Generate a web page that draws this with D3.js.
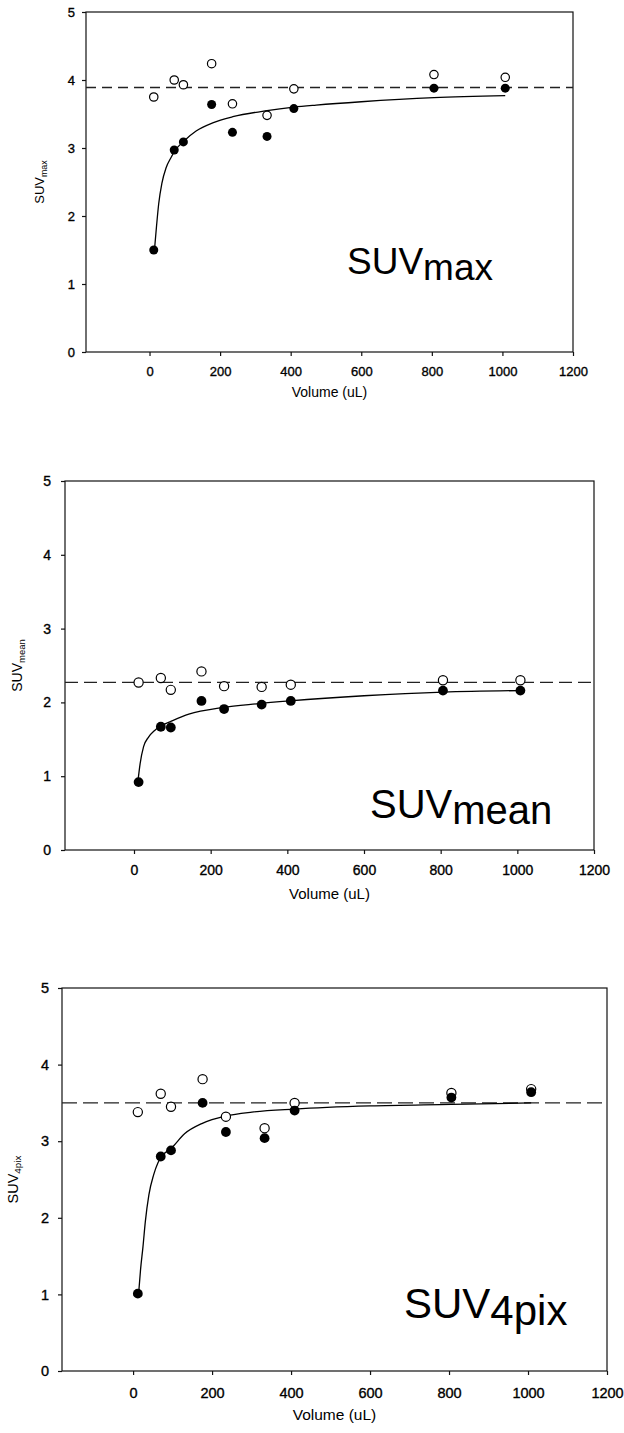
<!DOCTYPE html>
<html>
<head>
<meta charset="utf-8">
<script src="https://cdn.jsdelivr.net/npm/d3@7"></script>
<style>
  html, body { margin: 0; padding: 0; background: #fff; }
  svg { display: block; }
  text { font-family: "Liberation Sans", Arial, Helvetica, sans-serif; fill: #000; }
</style>
</head>
<body>
<svg id="chart" width="624" height="1433"></svg>
<script>
// ---- data ----
const volume = [12, 70, 96, 176, 235, 333, 409, 806, 1008];
const xTicks = [0, 200, 400, 600, 800, 1000, 1200];
const yTicks = [0, 1, 2, 3, 4, 5];

// SUVmax
const maxOpen   = [3.75, 4.00, 3.93, 4.24, 3.65, 3.48, 3.87, 4.08, 4.04];
const maxFilled = [1.50, 2.97, 3.09, 3.64, 3.23, 3.17, 3.58, 3.88, 3.88];
const maxRef = 3.89;
const maxCurveX = [14, 20, 26, 35, 47, 61, 72, 97, 132, 179, 236, 333, 409, 472, 600, 806, 1008];
const maxCurveY = [1.50, 1.86, 2.18, 2.48, 2.71, 2.86, 2.96, 3.10, 3.25, 3.37, 3.46, 3.55, 3.60, 3.63, 3.68, 3.74, 3.77];

// SUVmean
const meanOpen   = [2.27, 2.33, 2.17, 2.42, 2.22, 2.21, 2.24, 2.30, 2.30];
const meanFilled = [0.92, 1.67, 1.66, 2.02, 1.91, 1.97, 2.02, 2.16, 2.16];
const meanRef = 2.27;
const meanCurveX = [10, 16, 25, 38, 54, 69, 95, 143, 231, 319, 406, 600, 806, 1008];
const meanCurveY = [0.92, 1.17, 1.40, 1.53, 1.62, 1.68, 1.74, 1.84, 1.93, 1.98, 2.02, 2.09, 2.14, 2.16];

// SUV4pix
const pixOpen   = [3.38, 3.62, 3.45, 3.81, 3.32, 3.17, 3.50, 3.63, 3.68];
const pixFilled = [1.01, 2.80, 2.88, 3.50, 3.12, 3.04, 3.40, 3.57, 3.64];
const pixRef = 3.50;
const pixCurveX = [14, 19, 25, 31, 40, 52, 63, 72, 97, 131, 174, 236, 301, 410, 600, 806, 1008];
const pixCurveY = [1.01, 1.33, 1.62, 1.95, 2.30, 2.56, 2.72, 2.80, 2.91, 3.10, 3.23, 3.33, 3.38, 3.42, 3.46, 3.48, 3.50];

const svg = d3.select('#chart');

// each panel is a scanned figure of slightly different scale
const panels = [
  { main: 'SUV', sub: 'max', open: maxOpen, filled: maxFilled, ref: maxRef, cx: maxCurveX, cy: maxCurveY,
    left: 86, right: 573, top: 12, bottom: 352, tick: 13, pad: 11, ypad: 7, dash: '10,6',
    ytitleX: 44, xtitleY: 397, big: 37, bigX: 347, bigY: 274, subShift: 6, r: 4.2 },
  { main: 'SUV', sub: 'mean', open: meanOpen, filled: meanFilled, ref: meanRef, cx: meanCurveX, cy: meanCurveY,
    left: 65, right: 594, top: 481, bottom: 850, tick: 14, pad: 11, ypad: 10, dash: '13,6',
    ytitleX: 22, xtitleY: 899, big: 40, bigX: 370, bigY: 818, subShift: 6, r: 4.6 },
  { main: 'SUV', sub: '4pix', open: pixOpen, filled: pixFilled, ref: pixRef, cx: pixCurveX, cy: pixCurveY,
    left: 62, right: 607, top: 988, bottom: 1371, tick: 14.5, pad: 13, ypad: 9, dash: '15,6',
    ytitleX: 18, xtitleY: 1420, big: 42, bigX: 404, bigY: 1318, subShift: 7, r: 4.6 }
];

panels.forEach(drawPanel);

function drawPanel(p) {
  const x = d3.scaleLinear().domain([-180, 1200]).range([p.left, p.right]);
  const y = d3.scaleLinear().domain([0, 5]).range([p.bottom, p.top]);
  const g = svg.append('g');

  // frame
  g.append('rect')
    .attr('x', p.left).attr('y', p.top)
    .attr('width', p.right - p.left).attr('height', p.bottom - p.top)
    .attr('fill', 'none').attr('stroke', '#111').attr('stroke-width', 1.2);

  // axes
  const xAxis = g.append('g')
    .attr('transform', `translate(0,${p.bottom})`)
    .call(d3.axisBottom(x).tickValues(xTicks).tickSize(4).tickPadding(p.pad).tickFormat(d3.format('d')));
  const yAxis = g.append('g')
    .attr('transform', `translate(${p.left},0)`)
    .call(d3.axisLeft(y).tickValues(yTicks).tickSize(4).tickPadding(p.ypad).tickFormat(d3.format('d')));
  [xAxis, yAxis].forEach(a => {
    a.select('.domain').remove();
    a.selectAll('line').attr('stroke', '#111').attr('stroke-width', 1.2);
    // scanned labels look heavy, thicken them a touch
    a.selectAll('text').attr('font-size', p.tick).attr('fill', '#000')
      .attr('stroke', '#000').attr('stroke-width', 0.35)
      .attr('font-family', '"Liberation Sans", Arial, sans-serif');
  });

  // axis titles
  g.append('text')
    .attr('x', (p.left + p.right) / 2).attr('y', p.xtitleY)
    .attr('text-anchor', 'middle').attr('font-size', p.tick + 1)
    .text('Volume (uL)');

  const yt = g.append('text')
    .attr('transform', `translate(${p.ytitleX},${(p.top + p.bottom) / 2}) rotate(-90)`)
    .attr('text-anchor', 'middle').attr('font-size', p.tick);
  yt.append('tspan').text(p.main);
  yt.append('tspan').attr('font-size', p.tick * 0.68).attr('dy', 3).text(p.sub);

  // reference (dashed) line
  g.append('line')
    .attr('x1', x(-180)).attr('x2', x(1200))
    .attr('y1', y(p.ref)).attr('y2', y(p.ref))
    .attr('stroke', '#222').attr('stroke-width', 1.3)
    .attr('stroke-dasharray', p.dash);

  // fitted curve
  const pts = p.cx.map((v, i) => [v, p.cy[i]]);
  g.append('path')
    .datum(pts)
    .attr('fill', 'none').attr('stroke', '#000').attr('stroke-width', 1.3)
    .attr('d', d3.line().x(d => x(d[0])).y(d => y(d[1])).curve(d3.curveMonotoneX));

  // open circles
  g.append('g').selectAll('circle')
    .data(volume.map((v, i) => [v, p.open[i]]))
    .join('circle')
    .attr('cx', d => x(d[0])).attr('cy', d => y(d[1])).attr('r', p.r)
    .attr('fill', '#fff').attr('stroke', '#000').attr('stroke-width', 1.2);

  // filled circles
  g.append('g').selectAll('circle')
    .data(volume.map((v, i) => [v, p.filled[i]]))
    .join('circle')
    .attr('cx', d => x(d[0])).attr('cy', d => y(d[1])).attr('r', p.r + 0.3)
    .attr('fill', '#000');

  // big in-plot label
  const big = g.append('text')
    .attr('x', p.bigX).attr('y', p.bigY)
    .attr('font-size', p.big);
  big.append('tspan').text(p.main);
  big.append('tspan').attr('dy', p.subShift).text(p.sub);
}
</script>
</body>
</html>
